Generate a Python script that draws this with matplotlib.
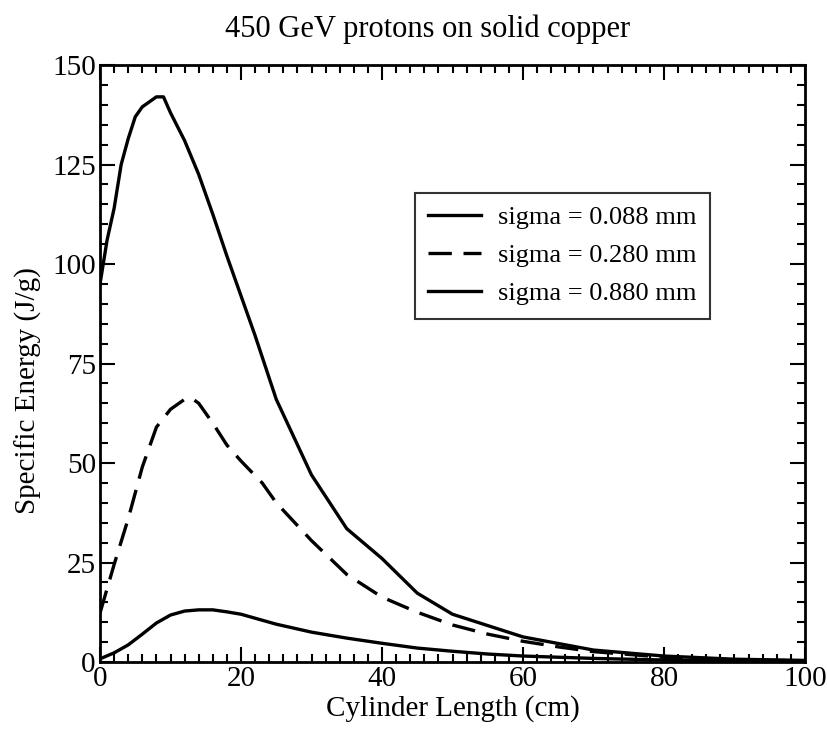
import matplotlib
matplotlib.use("Agg")
import matplotlib.pyplot as plt
from matplotlib.ticker import MultipleLocator

plt.rcParams["font.family"] = ["Liberation Serif", "DejaVu Serif"]

# Energy deposition along the cylinder for three beam sizes
x_088 = [0, 1, 2, 3, 4, 5, 6, 8, 9, 10, 12, 14, 16, 18, 20, 22, 25, 30, 35,
         40, 45, 50, 60, 70, 80, 90, 100]
e_088 = [95, 106, 114, 125, 131.5, 137, 139.5, 142, 142, 138, 131, 122.5,
         112.5, 102, 92, 82, 66, 47, 33.5, 26, 17.3, 12, 6.3, 3, 1.5, 0.7, 0.4]

x_280 = [0, 2, 4, 6, 8, 10, 12, 13, 14, 16, 18, 20, 23, 25, 30, 35, 40, 45,
         50, 55, 60, 65, 70, 80, 90, 100]
e_280 = [12.3, 24.5, 36, 49, 59, 63.5, 66, 66.3, 65, 60, 54.5, 50.5, 45, 40,
         30.5, 22, 16.3, 12.5, 9.3, 7, 5.2, 3.8, 2.6, 1.2, 0.5, 0.3]

x_880 = [0, 2, 4, 6, 8, 10, 12, 14, 16, 18, 20, 25, 30, 35, 40, 45, 50, 55,
         60, 70, 80, 90, 100]
e_880 = [0.8, 2.3, 4.3, 7, 9.8, 11.8, 12.8, 13.1, 13.1, 12.6, 12, 9.5, 7.5,
         6, 4.7, 3.5, 2.7, 2, 1.5, 0.9, 0.5, 0.3, 0.2]

fig = plt.figure(figsize=(8.28, 7.34), dpi=100)
ax = fig.add_axes([0.1208, 0.0981, 0.8514, 0.8133])

ax.plot(x_088, e_088, color="black", lw=2.4, label="sigma = 0.088 mm")
ax.plot(x_280, e_280, color="black", lw=2.4, dashes=(7, 3.5),
        label="sigma = 0.280 mm")
ax.plot(x_880, e_880, color="black", lw=2.4, label="sigma = 0.880 mm")

ax.set_xlim(0, 100)
ax.set_ylim(0, 150)
ax.xaxis.set_major_locator(MultipleLocator(20))
ax.xaxis.set_minor_locator(MultipleLocator(2))
ax.yaxis.set_major_locator(MultipleLocator(25))
ax.yaxis.set_minor_locator(MultipleLocator(5))
ax.tick_params(which="both", direction="in", top=True, right=True,
               width=1.5, labelsize=21, pad=3)
ax.tick_params(which="major", length=11)
ax.tick_params(which="minor", length=6)
for spine in ax.spines.values():
    spine.set_linewidth(2)

ax.set_xlabel("Cylinder Length (cm)", fontsize=21, labelpad=2)
ax.set_ylabel("Specific Energy (J/g)", fontsize=21)
ax.yaxis.set_label_coords(-0.083, 0.454)
ax.set_title("450 GeV protons on solid copper", fontsize=22, pad=20, x=0.465)

leg = ax.legend(loc="upper left", bbox_to_anchor=(0.447, 0.786), fontsize=19,
                frameon=True, fancybox=False, edgecolor="black",
                handlelength=2.0, handletextpad=0.65, borderpad=0.5,
                borderaxespad=0, labelspacing=0.55)
leg.get_frame().set_linewidth(1.5)

fig.savefig("out.png", dpi=100)
